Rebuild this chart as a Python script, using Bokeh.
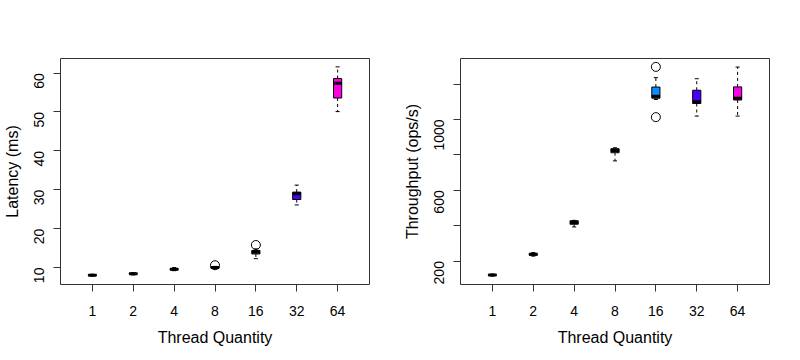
import math
from bokeh.plotting import figure
from bokeh.layouts import row
from bokeh.models import FixedTicker, ColumnDataSource
from bokeh.embed import file_html
from bokeh.resources import INLINE

threads = ["1", "2", "4", "8", "16", "32", "64"]
colors = ["#111111", "#9C8F00", "#3FCB00", "#00B780", "#0A8FFF", "#4B00FF", "#FF00E6"]

# Latency (ms) box statistics
lat_lower = [7.8, 8.1, 9.2, 9.7, 12.3, 26.1, 50.1]
lat_q1 = [7.95, 8.3, 9.4, 9.85, 13.5, 27.5, 53.6]
lat_med = [8.05, 8.4, 9.55, 10.0, 14.0, 29.0, 57.4]
lat_q3 = [8.2, 8.55, 9.75, 10.15, 14.4, 29.4, 58.6]
lat_upper = [8.3, 8.7, 10.0, 10.3, 14.8, 31.2, 61.6]
lat_out_thread = ["8", "16"]
lat_out_value = [10.6, 15.8]

# Throughput (ops/s) box statistics
thr_lower = [115, 228, 393, 766, 1113, 1019, 1019]
thr_q1 = [119, 233, 408, 812, 1120, 1090, 1110]
thr_med = [121, 238, 418, 825, 1131, 1100, 1120]
thr_q3 = [124, 243, 428, 835, 1183, 1165, 1184]
thr_upper = [127, 248, 430, 840, 1236, 1230, 1296]
thr_out_thread = ["16", "16"]
thr_out_value = [1297, 1013]

lat_ticks = [10, 20, 30, 40, 50, 60]
thr_ticks = [200, 400, 600, 800, 1000, 1200]
thr_tick_labels = ["200", "", "600", "", "1000", ""]

FONT = "Liberation Sans"


def make_plot(lower, q1, med, q3, upper, out_t, out_v, ylabel, yticks, ylabels, ml, mr):
    xs = [i + 1 for i in range(len(threads))]
    lo, hi = min(lower + out_v), max(upper + out_v)
    pad = (hi - lo) * 0.04
    p = figure(width=ml + 310 + mr, height=348, output_backend="svg", toolbar_location=None,
               x_range=(0.22, 7.78), y_range=(lo - pad, hi + pad),
               min_border_left=ml, min_border_right=mr, min_border_top=58, min_border_bottom=62)
    p.grid.visible = False
    p.outline_line_color = "#333333"
    p.outline_line_width = 1
    p.background_fill_color = "white"
    p.border_fill_color = "white"

    bw = 0.2
    src = ColumnDataSource(dict(x=xs, lower=lower, q1=q1, med=med, q3=q3, upper=upper,
                                color=colors,
                                xl=[x - bw / 2 for x in xs], xr=[x + bw / 2 for x in xs],
                                cl=[x - bw / 4 for x in xs], cr=[x + bw / 4 for x in xs]))
    p.segment(x0="x", y0="q3", x1="x", y1="upper", source=src, line_color="black",
              line_dash="3 3", line_width=1)
    p.segment(x0="x", y0="q1", x1="x", y1="lower", source=src, line_color="black",
              line_dash="3 3", line_width=1)
    p.segment(x0="cl", y0="upper", x1="cr", y1="upper", source=src, line_color="black", line_width=1)
    p.segment(x0="cl", y0="lower", x1="cr", y1="lower", source=src, line_color="black", line_width=1)
    p.vbar(x="x", width=bw, bottom="q1", top="q3", source=src, fill_color="color",
           line_color="black", line_width=1)
    p.segment(x0="xl", y0="med", x1="xr", y1="med", source=src, line_color="black", line_width=3)

    ox = [threads.index(t) + 1 for t in out_t]
    p.scatter(ox, out_v, marker="circle", size=9, fill_color=None, line_color="black", line_width=1)

    xa = p.xaxis[0]
    xa.ticker = FixedTicker(ticks=xs)
    xa.major_label_overrides = {x: t for x, t in zip(xs, threads)}
    xa.axis_label = "Thread Quantity"
    ya = p.yaxis[0]
    ya.ticker = FixedTicker(ticks=yticks)
    ya.major_label_overrides = {t: l for t, l in zip(yticks, ylabels)}
    ya.axis_label = ylabel
    ya.major_label_orientation = math.pi / 2
    for ax in (xa, ya):
        ax.axis_line_color = None
        ax.minor_tick_line_color = None
        ax.major_tick_out = 7
        ax.major_tick_in = 0
        ax.major_tick_line_color = "#333333"
        ax.major_label_text_font = FONT
        ax.major_label_text_font_size = "14px"
        ax.major_label_text_color = "black"
        ax.axis_label_text_font = FONT
        ax.axis_label_text_font_size = "16px"
        ax.axis_label_text_font_style = "normal"
        ax.axis_label_text_color = "black"
    xa.major_label_standoff = 14
    xa.axis_label_standoff = 10
    ya.major_label_standoff = 14
    ya.axis_label_standoff = 6
    return p


p1 = make_plot(lat_lower, lat_q1, lat_med, lat_q3, lat_upper, lat_out_thread, lat_out_value,
               "Latency (ms)", lat_ticks, [str(t) for t in lat_ticks], 59, 31)
p2 = make_plot(thr_lower, thr_q1, thr_med, thr_q3, thr_upper, thr_out_thread, thr_out_value,
               "Throughput (ops/s)", thr_ticks, thr_tick_labels, 59, 15)

layout = row(p1, p2, spacing=0)
open("out.html", "w").write(file_html(layout, INLINE))
